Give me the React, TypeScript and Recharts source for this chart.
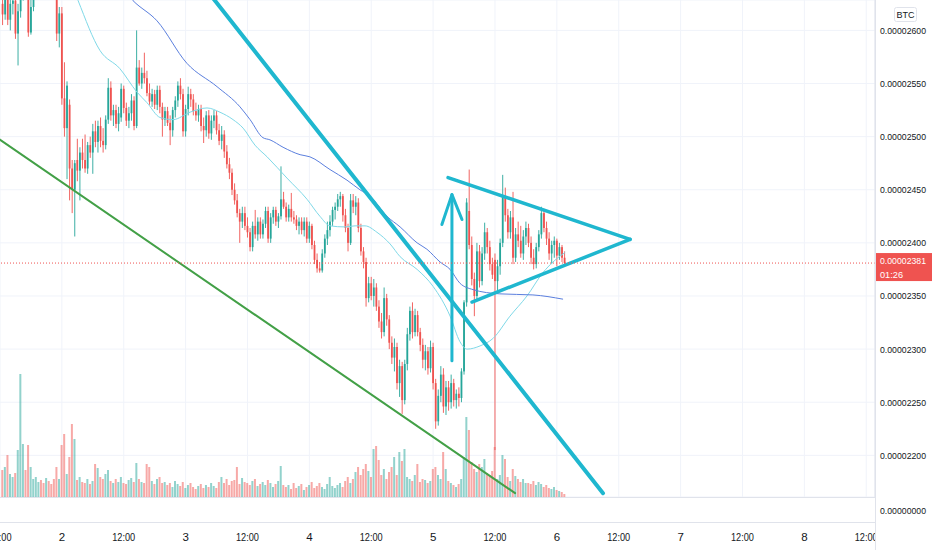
import React from "react";
import {
  ComposedChart,
  Bar,
  Line,
  XAxis,
  YAxis,
  CartesianGrid,
  ReferenceLine,
  Cell,
} from "recharts";

const GREEN = "#26a69a";
const RED = "#ef5350";
const DRAW = "#1fb7cf";
const TEXT = "#131722";
const FRAME = "#e0e3eb";
const FONT = '"Liberation Sans", Arial, sans-serif';

// 30 min bars, t = 0 is day 1 12:00; rows start at t = 1. [open, high, low, close] in 1e-8 BTC
const CANDLES: [number, number, number, number][] = [
  [2625, 2640, 2605, 2615], [2615, 2645, 2610, 2630], [2630, 2640, 2605, 2610], [2610, 2638, 2600, 2625],
  [2625, 2645, 2615, 2628], [2628, 2632, 2592, 2597], [2597, 2625, 2567, 2618], [2618, 2650, 2612, 2635],
  [2635, 2660, 2628, 2645], [2645, 2655, 2630, 2640], [2640, 2648, 2594, 2598], [2598, 2630, 2596, 2622],
  [2622, 2655, 2618, 2640], [2640, 2665, 2632, 2655], [2655, 2675, 2648, 2668], [2668, 2680, 2655, 2660],
  [2660, 2672, 2645, 2650], [2650, 2668, 2640, 2662], [2662, 2676, 2650, 2655], [2655, 2662, 2636, 2642],
  [2642, 2650, 2630, 2638], [2638, 2645, 2590, 2597], [2597, 2622, 2584, 2616], [2616, 2622, 2530, 2536],
  [2536, 2570, 2500, 2508], [2508, 2552, 2460, 2548], [2530, 2535, 2440, 2470], [2470, 2478, 2428, 2450],
  [2450, 2478, 2406, 2475], [2478, 2498, 2458, 2468], [2468, 2490, 2440, 2485], [2485, 2498, 2470, 2478],
  [2478, 2502, 2466, 2470], [2470, 2495, 2465, 2492], [2492, 2500, 2480, 2485], [2485, 2512, 2465, 2505],
  [2505, 2515, 2490, 2495], [2495, 2515, 2485, 2510], [2510, 2518, 2490, 2496], [2496, 2508, 2485, 2492],
  [2492, 2520, 2488, 2516], [2516, 2555, 2512, 2546], [2546, 2552, 2515, 2520], [2520, 2530, 2510, 2525],
  [2525, 2530, 2508, 2512], [2512, 2528, 2505, 2522], [2518, 2550, 2514, 2545], [2545, 2548, 2522, 2527],
  [2527, 2532, 2510, 2515], [2515, 2528, 2508, 2522], [2522, 2540, 2515, 2534], [2534, 2538, 2506, 2510],
  [2510, 2600, 2508, 2565], [2565, 2572, 2548, 2550], [2550, 2565, 2545, 2560], [2560, 2579, 2550, 2555],
  [2555, 2562, 2538, 2541], [2541, 2550, 2530, 2533], [2533, 2545, 2528, 2540], [2540, 2544, 2526, 2530],
  [2530, 2548, 2525, 2544], [2544, 2548, 2522, 2528], [2528, 2532, 2500, 2516], [2516, 2528, 2510, 2524],
  [2524, 2528, 2510, 2513], [2513, 2520, 2492, 2506], [2506, 2528, 2500, 2525], [2525, 2538, 2518, 2534],
  [2534, 2552, 2528, 2548], [2548, 2555, 2535, 2540], [2540, 2545, 2500, 2505], [2505, 2530, 2500, 2526],
  [2526, 2547, 2520, 2540], [2540, 2545, 2528, 2535], [2535, 2540, 2520, 2524], [2524, 2532, 2515, 2520],
  [2520, 2530, 2514, 2526], [2526, 2530, 2505, 2510], [2510, 2518, 2494, 2506], [2506, 2524, 2500, 2520],
  [2520, 2525, 2498, 2503], [2503, 2520, 2497, 2515], [2515, 2525, 2508, 2520], [2520, 2524, 2502, 2506],
  [2506, 2512, 2492, 2496], [2496, 2510, 2488, 2502], [2502, 2506, 2480, 2486], [2486, 2492, 2470, 2474],
  [2474, 2480, 2460, 2466], [2466, 2470, 2445, 2450], [2450, 2456, 2436, 2440], [2440, 2446, 2424, 2428],
  [2428, 2432, 2400, 2420], [2420, 2434, 2414, 2428], [2428, 2434, 2412, 2416], [2416, 2424, 2405, 2410],
  [2410, 2414, 2392, 2396], [2396, 2420, 2392, 2416], [2416, 2431, 2404, 2408], [2408, 2424, 2402, 2420],
  [2420, 2424, 2404, 2408], [2408, 2422, 2404, 2418], [2418, 2434, 2414, 2430], [2430, 2434, 2400, 2404],
  [2404, 2428, 2400, 2424], [2424, 2434, 2418, 2431], [2431, 2434, 2416, 2420], [2420, 2428, 2414, 2425],
  [2425, 2472, 2422, 2441], [2441, 2448, 2432, 2434], [2434, 2438, 2420, 2424], [2424, 2436, 2420, 2432],
  [2432, 2447, 2420, 2424], [2424, 2430, 2418, 2422], [2422, 2426, 2412, 2416], [2416, 2424, 2408, 2420],
  [2420, 2424, 2408, 2412], [2412, 2424, 2406, 2420], [2420, 2424, 2400, 2404], [2404, 2420, 2400, 2416],
  [2416, 2418, 2394, 2398], [2398, 2402, 2380, 2384], [2384, 2390, 2372, 2376], [2376, 2382, 2372, 2374],
  [2374, 2394, 2372, 2390], [2390, 2408, 2386, 2404], [2404, 2420, 2398, 2412], [2412, 2426, 2406, 2420],
  [2420, 2434, 2416, 2431], [2431, 2438, 2422, 2434], [2434, 2446, 2430, 2441], [2441, 2448, 2434, 2444],
  [2444, 2446, 2420, 2426], [2426, 2432, 2410, 2414], [2414, 2418, 2392, 2400], [2400, 2446, 2398, 2440],
  [2440, 2446, 2428, 2434], [2434, 2444, 2426, 2438], [2438, 2442, 2410, 2414], [2414, 2418, 2388, 2392],
  [2392, 2396, 2376, 2382], [2382, 2386, 2340, 2348], [2348, 2368, 2344, 2362], [2362, 2368, 2346, 2350],
  [2350, 2366, 2340, 2358], [2358, 2362, 2336, 2340], [2340, 2346, 2320, 2326], [2326, 2334, 2310, 2316],
  [2316, 2358, 2312, 2348], [2348, 2352, 2322, 2328], [2328, 2332, 2300, 2306], [2306, 2312, 2286, 2292],
  [2292, 2310, 2279, 2302], [2302, 2306, 2262, 2268], [2268, 2290, 2255, 2284], [2284, 2288, 2239, 2252],
  [2252, 2290, 2248, 2286], [2286, 2320, 2280, 2314], [2314, 2340, 2308, 2336], [2336, 2344, 2310, 2316],
  [2316, 2338, 2312, 2332], [2332, 2336, 2312, 2316], [2316, 2320, 2298, 2304], [2304, 2310, 2282, 2290],
  [2290, 2304, 2280, 2298], [2298, 2302, 2276, 2282], [2282, 2308, 2278, 2302], [2302, 2306, 2262, 2268],
  [2268, 2272, 2225, 2232], [2232, 2262, 2228, 2256], [2256, 2284, 2250, 2276], [2276, 2282, 2240, 2246],
  [2246, 2270, 2238, 2264], [2264, 2270, 2242, 2250], [2250, 2276, 2244, 2268], [2268, 2272, 2246, 2252],
  [2252, 2262, 2244, 2258], [2258, 2264, 2246, 2254], [2254, 2282, 2250, 2279], [2279, 2346, 2276, 2344],
  [2344, 2442, 2340, 2438], [2430, 2469, 2394, 2398], [2398, 2406, 2360, 2366], [2366, 2372, 2331, 2350],
  [2350, 2400, 2346, 2392], [2392, 2398, 2358, 2364], [2364, 2396, 2360, 2390], [2390, 2419, 2384, 2410],
  [2410, 2414, 2390, 2396], [2396, 2402, 2374, 2380], [2380, 2386, 2366, 2370], [2384, 2390, 2205, 2364],
  [2364, 2384, 2352, 2378], [2378, 2404, 2370, 2400], [2400, 2464, 2396, 2444], [2444, 2452, 2420, 2426],
  [2426, 2432, 2404, 2410], [2410, 2430, 2404, 2424], [2424, 2448, 2380, 2386], [2386, 2414, 2382, 2408],
  [2408, 2420, 2396, 2402], [2402, 2416, 2386, 2390], [2390, 2412, 2384, 2406], [2406, 2420, 2398, 2414],
  [2414, 2418, 2396, 2400], [2400, 2406, 2380, 2386], [2386, 2394, 2375, 2380], [2380, 2400, 2376, 2396],
  [2396, 2412, 2392, 2408], [2408, 2434, 2404, 2428], [2428, 2432, 2410, 2414], [2414, 2420, 2398, 2404],
  [2404, 2410, 2384, 2390], [2390, 2402, 2380, 2398], [2398, 2406, 2386, 2402], [2402, 2404, 2378, 2388],
  [2388, 2400, 2384, 2396], [2396, 2398, 2382, 2386], [2386, 2392, 2378, 2381],
];

const VOLUMES = [
  27, 30, 42, 23, 20, 24, 47, 123, 53, 27, 52, 30,
  18, 20, 15, 17, 14, 19, 16, 13, 18,
  30, 18, 52, 63, 23, 40, 73, 58,
  17, 20, 15, 14, 18, 13, 16,
  33, 29, 20, 18, 23, 27,
  16, 14, 18, 15, 20, 14, 13, 17, 19, 15,
  34, 18, 15, 14, 33, 30,
  16, 13, 18, 20, 14, 15,
  12, 14, 10, 16, 13, 11, 15, 9, 12, 14, 10, 8, 11, 13, 9, 12, 10, 14, 11, 9,
  15, 20, 14, 18, 12, 16, 17, 30, 13, 19, 15,
  14, 12, 16, 18, 11, 13, 15, 12, 17, 14, 10, 13, 16, 31, 12,
  10, 12, 8, 14, 9, 11, 13, 7, 10, 12, 15, 9, 11, 14, 10, 8, 13, 20, 11, 9, 12, 14, 10, 16,
  20, 14, 18, 25, 30, 22, 28, 33, 26, 20,
  48, 51, 37, 22, 28, 18, 25,
  30, 40, 22, 45, 36, 48, 20,
  18, 16, 22, 33, 15, 18, 17, 14, 16,
  28, 30, 22, 18, 45, 28, 16,
  14, 12, 10, 13, 18,
  40, 80, 67,
  35, 28, 25, 33, 30, 38, 24, 22, 26,
  50, 18, 22, 42, 38, 20, 16, 28,
  21, 18, 15, 18, 14, 14, 13, 16, 12, 15, 13, 10, 12, 9, 8, 10, 7, 6, 5, 3,
];

const TIME_TICKS = [0, 24, 48, 72, 96, 120, 144, 168, 192, 216, 240, 264, 288, 312, 336];
const TIME_LABELS = ["12:00", "2", "12:00", "3", "12:00", "4", "12:00", "5", "12:00", "6", "12:00", "7", "12:00", "8", "12:00"];
const PRICE_TICKS = [2200, 2250, 2300, 2350, 2400, 2450, 2500, 2550, 2600];
const LAST_PRICE = 2381;
const COUNTDOWN = "01:26";

// moving averages, [t, price]
const FAST_MA: [number, number][] = [
  [27.9, 2643], [30.3, 2628], [38.8, 2581], [46.5, 2564], [53.1, 2542], [57.0, 2532], [62.1, 2518],
  [67.1, 2516], [73.7, 2523], [80.3, 2527], [85.3, 2523], [90.4, 2516], [94.3, 2508], [98.9, 2492],
  [103.6, 2481], [111.3, 2461], [119.1, 2441], [124.1, 2425], [128.0, 2416], [133.8, 2415], [137.7, 2416],
  [141.6, 2416], [146.2, 2410], [151.3, 2399], [155.2, 2387], [161.8, 2375], [168.0, 2359], [174.6, 2331],
  [178.4, 2307], [181.2, 2300], [186.2, 2303], [191.2, 2310], [197.8, 2331], [204.4, 2350], [210.6, 2372],
  [214.5, 2382], [219.2, 2391],
];
const SLOW_MA: [number, number][] = [
  [46.5, 2642], [51.6, 2628], [60.9, 2609], [72.5, 2569], [84.2, 2547], [93.1, 2528], [97.0, 2516],
  [102.0, 2499], [104.7, 2497], [109.8, 2490], [116.4, 2483], [120.2, 2481], [128.0, 2469], [134.6, 2459],
  [139.6, 2450], [143.5, 2444], [150.1, 2425], [155.2, 2415], [161.8, 2400], [165.6, 2394], [170.7, 2382],
  [174.6, 2375], [178.4, 2362], [183.5, 2356], [193.9, 2352], [206.7, 2351], [218.4, 2347],
];

// hand drawn lines, [t, price] end points
const DOWN_TREND: [number, number][] = [[80.3, 2637.5], [233.9, 2164.4]];
const CHANNEL_LOW: [number, number][] = [[-3.9, 2503.5], [199.8, 2164.4]];
const TRI_UPPER: [number, number][] = [[173.8, 2461.4], [244.4, 2403.3]];
const TRI_LOWER: [number, number][] = [[183.1, 2344.3], [244.4, 2403.3]];
const ARROW_SHAFT: [number, number][] = [[175.3, 2289.0], [175.3, 2443.6]];
const ARROW_HEAD: [number, number][] = [[171.4, 2417.3], [175.3, 2445.4], [179.2, 2422.0]];

const rows = CANDLES.map(([o, h, l, c], k) => ({
  t: k + 1,
  o,
  h,
  l,
  c,
  range: [l, h],
  vol: VOLUMES[k],
}));
const fastData = FAST_MA.map(([t, v]) => ({ t, v }));
const slowData = SLOW_MA.map(([t, v]) => ({ t, v }));

const seg = (pts: [number, number][]) => pts.map(([x, y]) => ({ x, y }));
const fmt = (v: number) => (v / 1e8).toFixed(8);

// the reference font is narrow, so squeeze the number labels to its width
const squeeze = { textLength: 46, lengthAdjust: "spacingAndGlyphs" as const };
const NUM_SIZE = 9.6;

function Candle(props: any) {
  const { x, y, width, height, payload } = props;
  if (!payload || x == null || y == null) return null;
  let top = y;
  let h = height;
  if (h < 0) {
    top = y + h;
    h = -h;
  }
  const k = h / Math.max(payload.h - payload.l, 0.0001);
  const cx = x + width / 2;
  const bTop = top + (payload.h - Math.max(payload.o, payload.c)) * k;
  const bBot = top + (payload.h - Math.min(payload.o, payload.c)) * k;
  const col = payload.c >= payload.o ? GREEN : RED;
  return (
    <g>
      <line x1={cx} x2={cx} y1={top} y2={top + h} stroke={col} strokeWidth={0.9} />
      <rect x={cx - 0.9} y={bTop} width={1.8} height={Math.max(bBot - bTop, 1)} fill={col} />
    </g>
  );
}

function TimeTick(props: any) {
  const label = TIME_LABELS[TIME_TICKS.indexOf(props.payload.value)];
  const fit = label.length > 2 ? { textLength: 23, lengthAdjust: "spacingAndGlyphs" as const } : {};
  return (
    <text
      x={props.x}
      y={props.y + 44}
      textAnchor="middle"
      fontSize={11.5}
      fill={TEXT}
      fontFamily={FONT}
      clipPath="url(#time-clip)"
      {...fit}
    >
      {label}
    </text>
  );
}

function PriceTick(props: any) {
  return (
    <text x={props.x} y={props.y} dy="0.355em" fontSize={NUM_SIZE} fill={TEXT} fontFamily={FONT} {...squeeze}>
      {fmt(props.payload.value)}
    </text>
  );
}

function PriceTag(props: any) {
  const vb = props.viewBox;
  if (!vb) return null;
  const x = vb.x + vb.width;
  const y = vb.y;
  return (
    <g>
      <rect x={x} y={y - 10} width={57} height={28} fill={RED} />
      <text x={x + 5} y={y + 1} fontSize={NUM_SIZE} fill="#fff" fontFamily={FONT} {...squeeze}>
        {fmt(LAST_PRICE)}
      </text>
      <text x={x + 5} y={y + 15} fontSize={NUM_SIZE} fill="#fff" fontFamily={FONT} textLength={23} lengthAdjust="spacingAndGlyphs">
        {COUNTDOWN}
      </text>
    </g>
  );
}

export default function App() {
  const drawn = [
    { pts: DOWN_TREND, color: DRAW, w: 4 },
    { pts: CHANNEL_LOW, color: "#43a047", w: 2 },
    { pts: TRI_UPPER, color: DRAW, w: 3.5 },
    { pts: TRI_LOWER, color: DRAW, w: 3.5 },
    { pts: ARROW_SHAFT, color: DRAW, w: 3 },
    { pts: ARROW_HEAD.slice(0, 2), color: DRAW, w: 3 },
    { pts: ARROW_HEAD.slice(1, 3), color: DRAW, w: 3 },
  ];

  return (
    <div style={{ position: "relative", width: 932, height: 550, background: "#fff", fontFamily: FONT }}>
      <style>{"body{margin:0}"}</style>
      <ComposedChart width={932} height={550} data={rows} margin={{ top: 0, right: 0, bottom: 0, left: 0 }}>
        <CartesianGrid xAxisId="t" yAxisId="price" stroke="#f0f3fa" />
        <XAxis
          xAxisId="t"
          dataKey="t"
          type="number"
          domain={[0, 339.4]}
          allowDataOverflow
          ticks={TIME_TICKS}
          tick={TimeTick}
          tickSize={0}
          tickMargin={0}
          tickLine={false}
          axisLine={false}
          height={53}
          interval={0}
        />
        <XAxis xAxisId="v" dataKey="t" type="number" domain={[0, 339.4]} allowDataOverflow hide />
        <YAxis
          yAxisId="price"
          orientation="right"
          type="number"
          domain={[2160.8, 2628.6]}
          allowDataOverflow
          ticks={PRICE_TICKS}
          tick={PriceTick}
          tickLine={false}
          tickSize={0}
          tickMargin={5}
          axisLine={{ stroke: FRAME }}
          width={57}
          interval={0}
        />
        <YAxis yAxisId="vol" type="number" domain={[0, 497]} hide />

        <Bar xAxisId="v" yAxisId="vol" dataKey="vol" barSize={2} isAnimationActive={false}>
          {rows.map((r, k) => (
            <Cell key={k} fill={r.c >= r.o ? "rgba(38,166,154,0.5)" : "rgba(239,83,80,0.5)"} />
          ))}
        </Bar>
        <Bar
          xAxisId="t"
          yAxisId="price"
          dataKey="range"
          barSize={2}
          isAnimationActive={false}
          shape={(p: any) => <Candle {...p} />}
        />

        <Line
          xAxisId="t"
          yAxisId="price"
          data={fastData}
          dataKey="v"
          type="monotone"
          stroke="#7fd9e8"
          strokeWidth={1}
          dot={false}
          activeDot={false}
          isAnimationActive={false}
        />
        <Line
          xAxisId="t"
          yAxisId="price"
          data={slowData}
          dataKey="v"
          type="monotone"
          stroke="#5b7fde"
          strokeWidth={1}
          dot={false}
          activeDot={false}
          isAnimationActive={false}
        />

        {drawn.map((d, k) => (
          <ReferenceLine
            key={k}
            xAxisId="t"
            yAxisId="price"
            segment={seg(d.pts)}
            stroke={d.color}
            strokeWidth={d.w}
            strokeLinecap="round"
            ifOverflow="hidden"
          />
        ))}

        <ReferenceLine
          xAxisId="t"
          yAxisId="price"
          y={LAST_PRICE}
          stroke={RED}
          strokeWidth={1}
          strokeDasharray="1 2"
          label={(p: any) => <PriceTag {...p} />}
        />
      </ComposedChart>

      <svg
        width={932}
        height={550}
        style={{ position: "absolute", left: 0, top: 0, pointerEvents: "none" }}
      >
        <defs>
          <clipPath id="time-clip">
            <rect x={0} y={490} width={875} height={60} />
          </clipPath>
        </defs>
        <line x1={0} x2={875} y1={497.5} y2={497.5} stroke={FRAME} />
        <line x1={0} x2={875} y1={522.5} y2={522.5} stroke={FRAME} />
        <line x1={875.5} x2={875.5} y1={0} y2={550} stroke={FRAME} />
        <text x={880} y={514} fontSize={NUM_SIZE} fill={TEXT} fontFamily={FONT} {...squeeze}>
          {fmt(0)}
        </text>
        <rect x={894.5} y={7.5} width={22} height={14} rx={2} fill="#fff" stroke={FRAME} />
        <text x={905.5} y={18} fontSize={9} fill={TEXT} textAnchor="middle" fontFamily={FONT}>
          BTC
        </text>
      </svg>
    </div>
  );
}
